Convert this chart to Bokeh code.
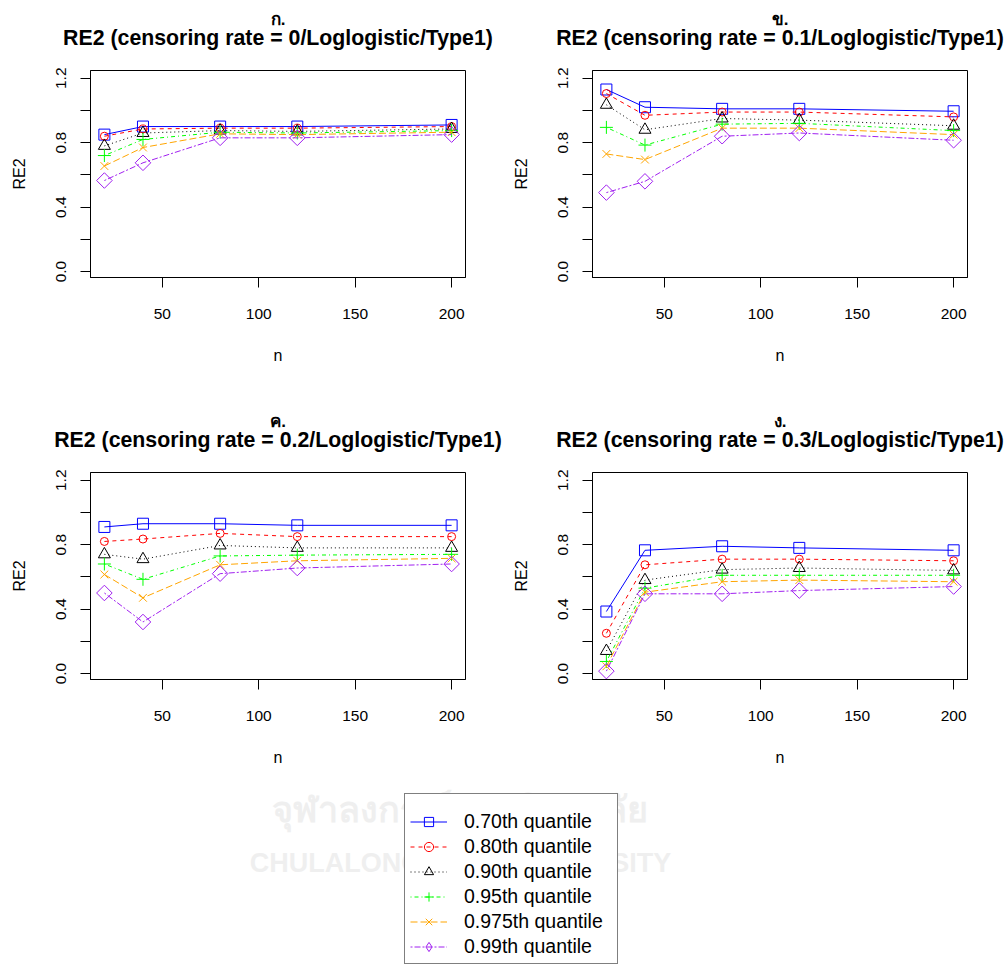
from bokeh.plotting import figure
from bokeh.models import FixedTicker, Legend, LegendItem, Range1d
from bokeh.layouts import column, row
from bokeh.embed import file_html
from bokeh.resources import INLINE
from bokeh.core.properties import value
import math

# ---------------- data ----------------
n_values = [20, 40, 80, 120, 200]

quantile_labels = ["0.70th quantile", "0.80th quantile", "0.90th quantile",
                   "0.95th quantile", "0.975th quantile", "0.99th quantile"]

panel_letters = ["ก.", "ข.", "ค.", "ง."]
panel_titles = ["RE2 (censoring rate = 0/Loglogistic/Type1)",
                "RE2 (censoring rate = 0.1/Loglogistic/Type1)",
                "RE2 (censoring rate = 0.2/Loglogistic/Type1)",
                "RE2 (censoring rate = 0.3/Loglogistic/Type1)"]

# rows: 0.70, 0.80, 0.90, 0.95, 0.975, 0.99 quantile; columns follow n_values
re2_cr00 = [[0.85, 0.90, 0.90, 0.90, 0.91],
            [0.84, 0.885, 0.89, 0.89, 0.90],
            [0.78, 0.86, 0.875, 0.87, 0.885],
            [0.72, 0.82, 0.865, 0.86, 0.875],
            [0.655, 0.77, 0.855, 0.85, 0.865],
            [0.565, 0.675, 0.83, 0.83, 0.85]]

re2_cr01 = [[1.13, 1.02, 1.01, 1.01, 0.995],
            [1.105, 0.97, 0.99, 0.99, 0.96],
            [1.035, 0.88, 0.95, 0.94, 0.905],
            [0.895, 0.785, 0.915, 0.92, 0.875],
            [0.73, 0.695, 0.89, 0.89, 0.85],
            [0.49, 0.56, 0.84, 0.86, 0.815]]

re2_cr02 = [[0.91, 0.93, 0.93, 0.92, 0.92],
            [0.82, 0.835, 0.87, 0.85, 0.85],
            [0.74, 0.71, 0.795, 0.78, 0.78],
            [0.68, 0.585, 0.73, 0.735, 0.74],
            [0.615, 0.47, 0.675, 0.70, 0.715],
            [0.50, 0.32, 0.62, 0.655, 0.68]]

re2_cr03 = [[0.385, 0.765, 0.79, 0.78, 0.765],
            [0.25, 0.675, 0.71, 0.71, 0.70],
            [0.14, 0.58, 0.645, 0.655, 0.64],
            [0.075, 0.53, 0.61, 0.61, 0.61],
            [0.045, 0.505, 0.57, 0.58, 0.57],
            [0.015, 0.495, 0.495, 0.515, 0.54]]

panel_data = [re2_cr00, re2_cr01, re2_cr02, re2_cr03]

x_ticks = [50, 100, 150, 200]
y_ticks = [0.0, 0.2, 0.4, 0.6, 0.8, 1.0, 1.2]
y_tick_labels = {0.0: "0.0", 0.2: "", 0.4: "0.4", 0.6: "", 0.8: "0.8", 1.0: "", 1.2: "1.2"}

# ---------------- styles ----------------
colors = ["#0000FF", "#FF0000", "#000000", "#00FF00", "#FFA500", "#A020F0"]
dashes = ["solid", "4 4", "1 3", "1 3 4 3", "7 3", "2 2 6 2"]
markers = ["square", "circle", "triangle", "cross", "x", "square"]
legend_markers = ["square", "circle", "triangle", "cross", "x", "diamond"]
msizes = [11, 8, 12, 13, 11, 11]
legend_msizes = [11, 8, 12, 13, 11, 15]
mangles = [0, 0, 0, 0, 0, math.pi / 4]

FONT = "Liberation Sans"
FRAME_W = 375
FRAME_H = 207
PAGE_W = 1005
PANEL_W = 502


def blank_fig(height):
    f = figure(width=PAGE_W, height=height, x_range=Range1d(0, PAGE_W),
               y_range=Range1d(0, height), min_border=0,
               x_axis_type=None, y_axis_type=None,
               output_backend="svg", toolbar_location=None, title=None)
    f.outline_line_color = None
    f.xgrid.visible = False
    f.ygrid.visible = False
    f.background_fill_color = "white"
    f.border_fill_color = "white"
    return f


def title_strip(i0, i1, mid_main, mid_letter):
    f = blank_fig(60)
    centers = [90 + FRAME_W / 2, PANEL_W + 90 + FRAME_W / 2]
    f.text(x=centers, y=[mid_main, mid_main], text=[panel_titles[i0], panel_titles[i1]],
           text_align="center", text_baseline="middle", text_font=value(FONT),
           text_font_size="21.3px", text_font_style="bold", text_color="#000000")
    f.text(x=centers, y=[mid_letter, mid_letter], text=[panel_letters[i0], panel_letters[i1]],
           text_align="center", text_baseline="middle", text_font=value(FONT),
           text_font_size="17px", text_font_style="bold", text_color="#000000")
    return f


def make_panel(idx, top_border, bottom_border):
    p = figure(frame_width=FRAME_W, frame_height=FRAME_H,
               min_border_left=90, min_border_right=37,
               min_border_top=top_border, min_border_bottom=bottom_border,
               x_range=Range1d(12.8, 207.2), y_range=Range1d(-0.037, 1.248),
               output_backend="svg", toolbar_location=None, title=None)
    p.background_fill_color = "white"
    p.border_fill_color = "white"
    p.outline_line_color = "#000000"
    p.outline_line_width = 1
    p.xgrid.visible = False
    p.ygrid.visible = False

    for ax in (p.xaxis[0], p.yaxis[0]):
        ax.axis_line_color = "#000000"
        ax.major_tick_line_color = "#000000"
        ax.major_tick_out = 10
        ax.major_tick_in = 0
        ax.minor_tick_out = 0
        ax.minor_tick_in = 0
        ax.major_label_text_font = FONT
        ax.major_label_text_font_size = "15.5px"
        ax.major_label_text_color = "#000000"
        ax.axis_label_text_font = FONT
        ax.axis_label_text_font_size = "16px"
        ax.axis_label_text_font_style = "normal"
        ax.axis_label_text_color = "#000000"

    p.xaxis.ticker = FixedTicker(ticks=x_ticks)
    p.yaxis.ticker = FixedTicker(ticks=y_ticks)
    p.yaxis.major_label_overrides = y_tick_labels
    p.yaxis.major_label_orientation = "vertical"
    p.xaxis.major_label_standoff = 21
    p.yaxis.major_label_standoff = 14
    p.xaxis.axis_label = "n"
    p.yaxis.axis_label = "RE2"
    p.xaxis.axis_label_standoff = 25
    p.yaxis.axis_label_standoff = 26

    for k, vals in enumerate(panel_data[idx]):
        p.line(n_values, vals, line_color=colors[k], line_dash=dashes[k], line_width=1)
        p.scatter(n_values, vals, marker=markers[k], size=msizes[k], angle=mangles[k],
                  fill_color=None, line_color=colors[k], line_width=1)
    return p


t1 = title_strip(0, 1, 22.3, 40.9)
p1 = make_panel(0, 10, 123)
p2 = make_panel(1, 10, 123)
t2 = title_strip(2, 3, 20.6, 39.2)
p3 = make_panel(2, 12, 101)
p4 = make_panel(3, 12, 101)

# ---------------- legend area ----------------
pl = blank_fig(184)

# faint watermark behind the legend
pl.text(x=[459], y=[156], text=["จุฬาลงกรณ์มหาวิทยาลัย"], text_align="center",
        text_baseline="middle", text_color="#efefef", text_font=value("Noto Sans"),
        text_font_size="36px", text_font_style="bold")
pl.text(x=[460], y=[102], text=["CHULALONGKORN UNIVERSITY"], text_align="center",
        text_baseline="middle", text_color="#efefef", text_font=value(FONT),
        text_font_size="27px", text_font_style="bold")

nan = float("nan")
items = []
for k, lab in enumerate(quantile_labels):
    rl = pl.line(x=[nan], y=[nan], line_color=colors[k], line_dash=dashes[k], line_width=1)
    rs = pl.scatter(x=[nan], y=[nan], marker=legend_markers[k], size=legend_msizes[k],
                    fill_color=None, line_color=colors[k], line_width=1)
    items.append(LegendItem(label=lab, renderers=[rl, rs]))

legend = Legend(items=items, location=(404, 0), orientation="vertical",
                title=" ", title_text_font_size="10px", title_standoff=0,
                padding=5, margin=0, spacing=2,
                glyph_width=37, glyph_height=23, label_height=23, label_width=148,
                label_standoff=17,
                label_text_font=FONT, label_text_font_size="19.5px",
                label_text_color="#000000",
                border_line_color="#000000", border_line_width=1,
                background_fill_color="white", background_fill_alpha=1.0)
pl.add_layout(legend)

layout = column(t1, row(p1, p2), t2, row(p3, p4), pl)

open("out.html", "w").write(file_html(layout, INLINE))
